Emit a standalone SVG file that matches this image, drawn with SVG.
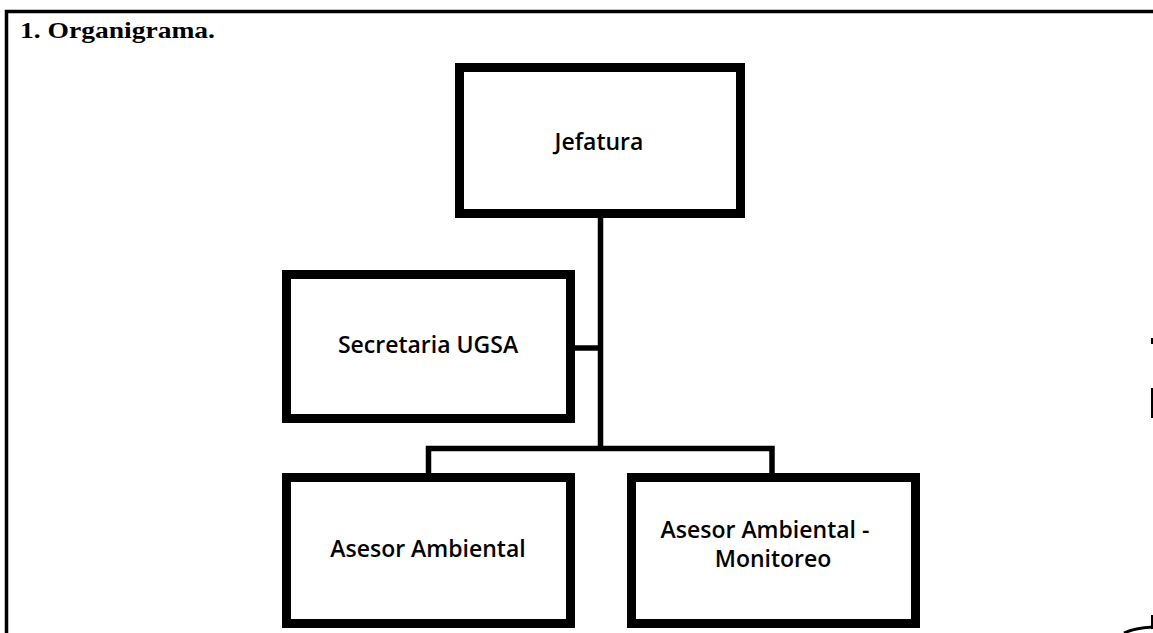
<svg xmlns="http://www.w3.org/2000/svg" width="1153" height="633" viewBox="0 0 1153 633">
<style>
.box{fill:#fff;stroke:#000;stroke-width:9;stroke-linejoin:miter}
.lbl{font-family:"Open Sans","Noto Sans","Liberation Sans",sans-serif;font-size:23px;font-weight:600;fill:#000;text-anchor:middle}
.conn{fill:none;stroke:#000;stroke-width:5.5}
.frame{fill:none;stroke:#000;stroke-width:3.5}
</style>
<rect width="1153" height="633" fill="#fff"/>
<g id="frame">
<path class="frame" d="M6.5,633 V11.5 H1153"/>
<path d="M1152,338 v6 M1152,388 v30 M1152,615 v14" stroke="#000" stroke-width="2" fill="none"/>
<path d="M1124,633 Q1135,628 1153,627" stroke="#000" stroke-width="3" fill="none"/>
<text x="20" y="38" font-family="'Liberation Serif','DejaVu Serif',serif" font-weight="bold" font-size="23" textLength="195" lengthAdjust="spacingAndGlyphs">1. Organigrama.</text>
</g>
<g id="connectors">
<path class="conn" d="M600.5,217 V451"/>
<path class="conn" d="M575,348 H600.5"/>
<path class="conn" d="M428.5,477 V448.5 H772 V477"/>
</g>
<g id="node-jefatura">
<rect class="box" x="459.5" y="67.5" width="281" height="146"/>
<text class="lbl" x="599" y="150">Jefatura</text>
</g>
<g id="node-secretaria">
<rect class="box" x="286.5" y="274.5" width="284" height="144"/>
<text class="lbl" x="428" y="353">Secretaria UGSA</text>
</g>
<g id="node-asesor">
<rect class="box" x="286.5" y="477.5" width="284" height="146"/>
<text class="lbl" x="428" y="557">Asesor Ambiental</text>
</g>
<g id="node-monitoreo">
<rect class="box" x="631.5" y="477.5" width="284" height="146"/>
<text class="lbl" x="765" y="538">Asesor Ambiental -</text>
<text class="lbl" x="773" y="567">Monitoreo</text>
</g>
</svg>
